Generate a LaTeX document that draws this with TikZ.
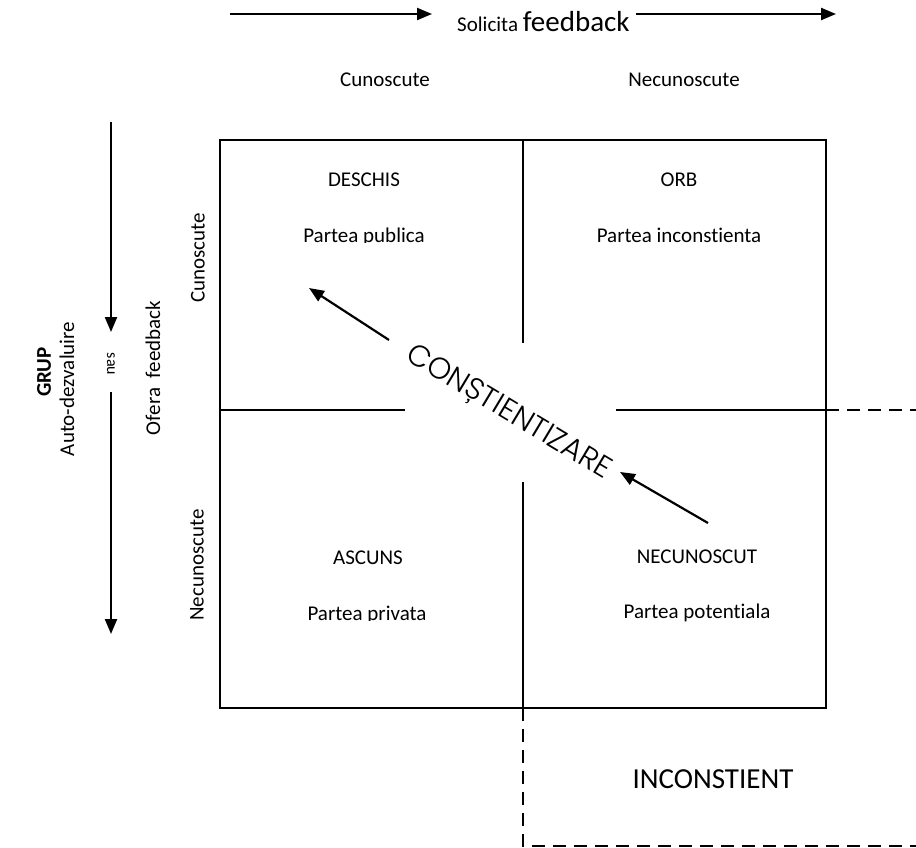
\documentclass[tikz,border=0pt]{standalone}
\usepackage{fontspec}
\setmainfont{Carlito}[Ligatures=NoCommon]
\IfFontExistsTF{Poppins Light}{\newfontfamily\gothic{Poppins Light}}{\newfontfamily\gothic{Poppins}}
\usetikzlibrary{arrows.meta}
\begin{document}
\begin{tikzpicture}[x=1pt,y=-1pt,
  lbl/.style={inner sep=0pt,font=\fontsize{21}{24}\selectfont},
  boxline/.style={line width=1.9pt},
  bigarrow/.style={line width=2.2pt,-{Triangle[length=15pt,width=12pt]}},
  dashline/.style={line width=1.5pt,dash pattern=on 13pt off 8pt}]
\useasboundingbox (0,0) rectangle (916,848);
% grid corners
\coordinate (TL) at (220,140);
\coordinate (TR) at (826,140);
\coordinate (BL) at (220,708);
\coordinate (BR) at (826,708);
\coordinate (TM) at (523,140);
\coordinate (BM) at (523,708);
\coordinate (ML) at (220,410);
\coordinate (MR) at (826,410);
\coordinate (vA) at (523,343);
\coordinate (vB) at (523,482);
\coordinate (hA) at (405,410);
\coordinate (hB) at (616,410);
\coordinate (dR) at (916,410);
\coordinate (dB) at (523,846);
\coordinate (dC) at (916,846);
\draw[boxline] (TL) rectangle (BR);
\draw[boxline] (TM) -- (vA);
\draw[boxline] (vB) -- (BM);
\draw[boxline] (ML) -- (hA);
\draw[boxline] (hB) -- (MR);
\draw[dashline] (MR) -- (dR);
\draw[dashline] (BM) -- (dB) -- (dC);
% top arrows
\coordinate (a1s) at (230,14);
\coordinate (a1e) at (432,14);
\coordinate (a2s) at (636,14);
\coordinate (a2e) at (836,14);
\draw[bigarrow] (a1s) -- (a1e);
\draw[bigarrow] (a2s) -- (a2e);
\node[lbl,anchor=base west] (sol) at (457,32) {Solicita \fontsize{29}{32}\selectfont feedback};
\node[lbl] (kc) at (385,80) {Cunoscute};
\node[lbl] (kn) at (684,80) {Necunoscute};
% left arrows
\coordinate (l1s) at (111,122);
\coordinate (l1e) at (111,332);
\coordinate (l2s) at (111,392);
\coordinate (l2e) at (111,634);
\draw[bigarrow] (l1s) -- (l1e);
\draw[bigarrow] (l2s) -- (l2e);
\node[lbl,rotate=-90,font=\fontsize{16}{18}\selectfont] (sau) at (111,364) {sau};
\node[lbl,rotate=90,font=\bfseries\fontsize{21}{24}\selectfont] (grup) at (44,372) {GRUP};
\node[lbl,rotate=90] (auto) at (67,389) {Auto-dezvaluire};
\node[lbl,rotate=90] (ofera) at (153,368) {Ofera\ \ feedback};
\node[lbl,rotate=90] (vc) at (198,258) {Cunoscute};
\node[lbl,rotate=90] (vn) at (197,565) {Necunoscute};
% quadrant texts
\node[lbl] (deschis) at (364,180) {DESCHIS};
\node[lbl] (orb) at (679,180) {ORB};
\begin{scope}
\clip (220,140) rectangle (826,242.5);
\node[lbl,anchor=base] (pub) at (364,242) {Partea publica};
\node[lbl,anchor=base] (inc) at (679,242) {Partea inconstienta};
\end{scope}
\node[lbl] (ascuns) at (368,558) {ASCUNS};
\begin{scope}
\clip (220,410) rectangle (523,620.5);
\node[lbl,anchor=base] (priv) at (367,620) {Partea privata};
\end{scope}
\node[lbl] (necun) at (697,557) {NECUNOSCUT};
\node[lbl] (pot) at (697,613) {Partea potentiala};
\node[lbl,font=\fontsize{29}{32}\selectfont] (incon) at (713,779) {INCONSTIENT};
% awareness
\node[inner sep=0pt,rotate=-31,font=\gothic\fontsize{30}{34}\selectfont] (con) at (508,413) {CONȘTIENTIZARE};
\coordinate (c1s) at (389,340);
\coordinate (c1e) at (309,288);
\coordinate (c2s) at (708,523);
\coordinate (c2e) at (620,472);
\draw[bigarrow] (c1s) -- (c1e);
\draw[bigarrow] (c2s) -- (c2e);
\end{tikzpicture}
\end{document}
